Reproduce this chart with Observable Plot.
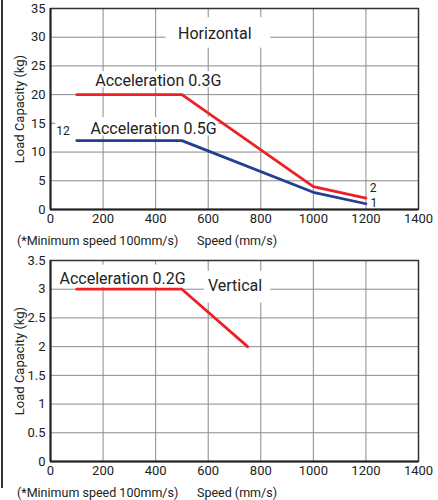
<!DOCTYPE html>
<html>
<head>
<meta charset="utf-8">
<script src="https://cdn.jsdelivr.net/npm/d3@7"></script>
<script src="https://cdn.jsdelivr.net/npm/@observablehq/plot@0.6"></script>
<style>
  body { margin: 0; background: #fff; }
  #wrap { position: relative; width: 438px; height: 500px; }
  #edge { position: absolute; left: 1px; top: 0; width: 1.5px; height: 488px; background: #333; }
  .cap { position: relative; height: 20px; font: 12.5px Roboto, sans-serif; color: #222; white-space: pre; }
  .cap span { position: absolute; top: 3px; }
  svg { display: block; }
</style>
</head>
<body>
<div id="wrap"><div id="edge"></div></div>
<script>
// ---- data ----
const speedH = [100, 500, 1000, 1200];
const load03G = [20, 20, 4, 2];
const load05G = [12, 12, 3, 1];
const speedV = [100, 500, 750];
const load02G = [3, 3, 2];
const xTicks = [0, 200, 400, 600, 800, 1000, 1200, 1400];
const yTicksH = [0, 5, 10, 15, 20, 25, 30, 35];
const yTicksV = [0, 0.5, 1, 1.5, 2, 2.5, 3, 3.5];

// annotation labels (data units)
const labelsH = [
  {text: "Horizontal", x: 625, y: 30.55, size: 16},
  {text: "Acceleration 0.3G", x: 410, y: 22.4, size: 16},
  {text: "Acceleration 0.5G", x: 392, y: 14.1, size: 16},
  {text: "12", x: 48, y: 13.6, size: 12},
  {text: "2", x: 1227, y: 3.7, size: 12},
  {text: "1", x: 1230, y: 1.1, size: 12}
];
const boxesH = [
  {x1: 440, x2: 838, y1: 28.1, y2: 33.4},
  {x1: 150, x2: 660, y1: 21.2, y2: 24.0},
  {x1: 20, x2: 640, y1: 12.8, y2: 16.0}
];
const labelsV = [
  {text: "Acceleration 0.2G", x: 274, y: 3.18, size: 16},
  {text: "Vertical", x: 702, y: 3.056, size: 16}
];
const boxesV = [
  {x1: 20, x2: 530, y1: 3.03, y2: 3.42},
  {x1: 585, x2: 838, y1: 2.76, y2: 3.31}
];

const red = "#ec2027";
const blue = "#243e90";
const grid = "#8a8a8a";
const font = "Roboto, sans-serif";

function chart({yDomain, yTicks, series, labels, boxes, height, marginTop}) {
  const marks = [
    Plot.gridX(xTicks, {stroke: grid, strokeOpacity: 1, strokeWidth: 1}),
    Plot.gridY(yTicks, {stroke: grid, strokeOpacity: 1, strokeWidth: 1}),
    Plot.rect(boxes, {x1: "x1", x2: "x2", y1: "y1", y2: "y2", fill: "white"}),
    Plot.frame({stroke: "#333", strokeWidth: 1.5}),
    Plot.ruleY([yDomain[0]], {stroke: "#222", strokeWidth: 2}),
    Plot.ruleX([0], {stroke: "#222", strokeWidth: 2}),
    ...series.map(s => Plot.line(s.x.map((x, i) => ({x, y: s.y[i]})), {x: "x", y: "y", stroke: s.color, strokeWidth: 2.8})),
    ...[12, 16].map(sz => Plot.text(labels.filter(d => d.size === sz), {
      x: "x", y: "y", text: "text", fontSize: sz, fill: "#222", fontFamily: font,
      textAnchor: "middle", lineAnchor: "middle"
    }))
  ];
  return Plot.plot({
    width: 438, height,
    marginLeft: 50, marginRight: 20, marginTop, marginBottom: 21,
    style: {fontFamily: font, fontSize: "13px", color: "#222", background: "white"},
    x: {domain: [0, 1400], ticks: xTicks, tickSize: 0, tickPadding: 4, tickFormat: d => String(d), label: null},
    y: {domain: yDomain, ticks: yTicks, tickSize: 0, tickPadding: 5, tickFormat: d => String(d), label: "Load Capacity (kg)", labelAnchor: "center", labelArrow: "none", labelOffset: 36},
    marks
  });
}

const wrap = document.getElementById("wrap");
wrap.appendChild(chart({
  yDomain: [0, 35], yTicks: yTicksH, height: 230, marginTop: 8,
  series: [{x: speedH, y: load03G, color: red}, {x: speedH, y: load05G, color: blue}],
  labels: labelsH, boxes: boxesH
}));
function caption() {
  const d = document.createElement("div");
  d.className = "cap";
  d.innerHTML = '<span style="left:17px">(*Minimum speed 100mm/s)</span><span style="left:197px">Speed (mm/s)</span>';
  return d;
}
wrap.appendChild(caption());
wrap.appendChild(chart({
  yDomain: [0, 3.5], yTicks: yTicksV, height: 232, marginTop: 10,
  series: [{x: speedV, y: load02G, color: red}],
  labels: labelsV, boxes: boxesV
}));
wrap.appendChild(caption());
</script>
</body>
</html>
